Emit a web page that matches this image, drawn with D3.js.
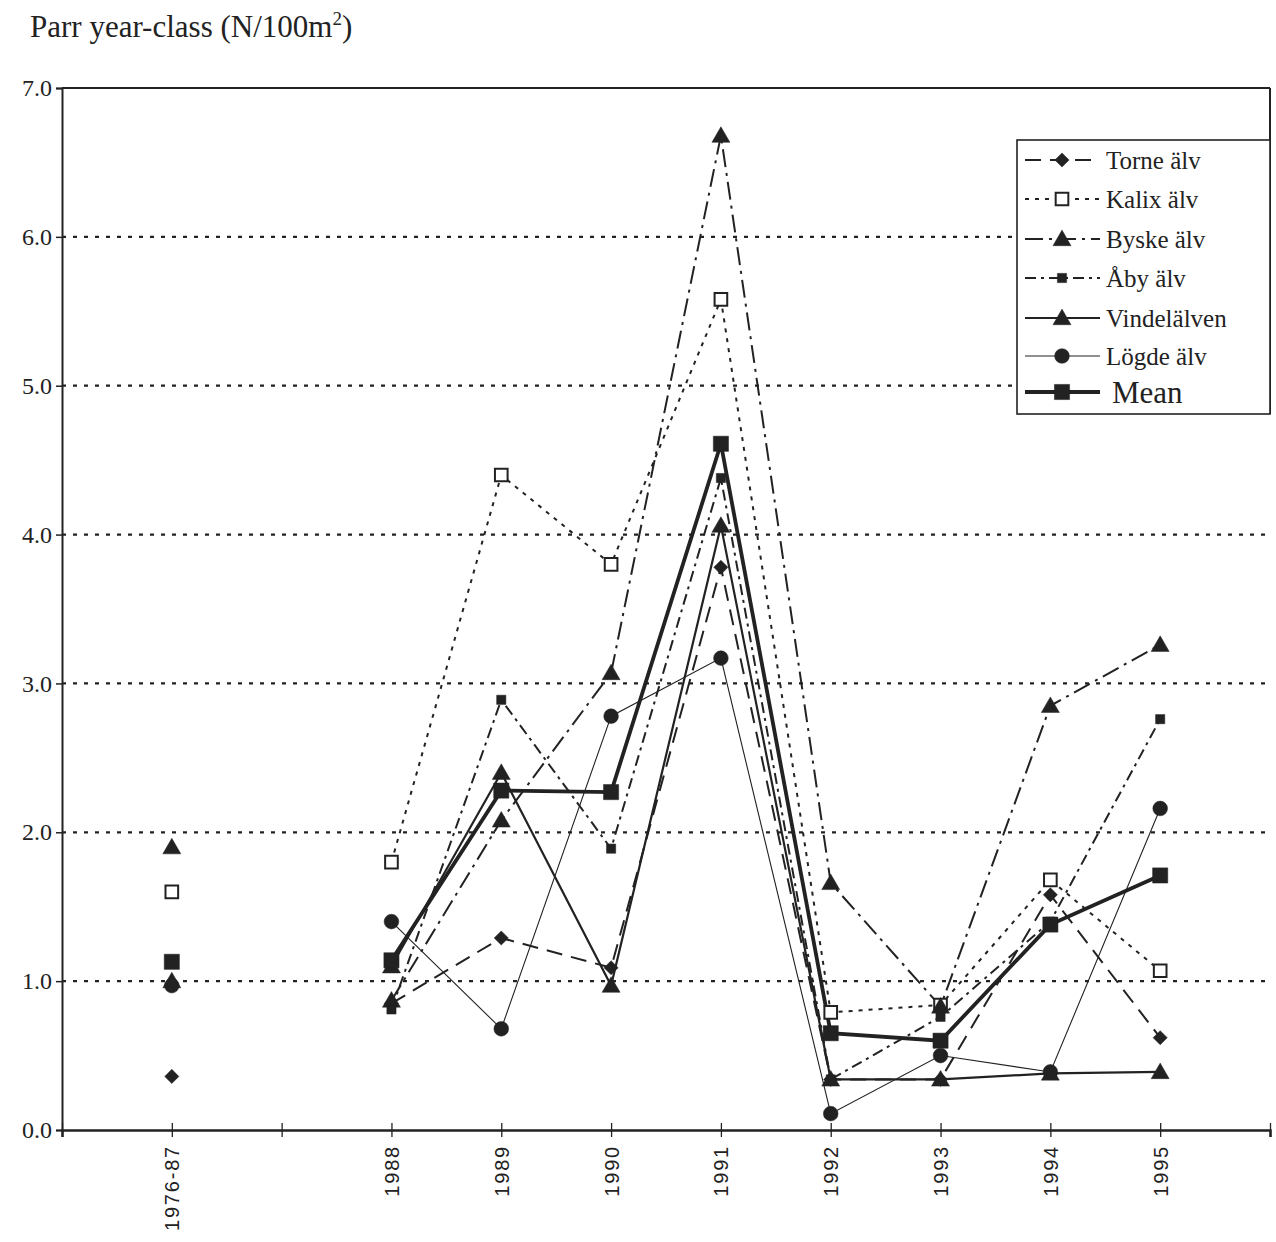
<!DOCTYPE html>
<html>
<head>
<meta charset="utf-8">
<script src="https://cdn.jsdelivr.net/npm/d3@7"></script>
<style>
  body { margin: 0; background: #fff; }
  svg { display: block; }
  .serif { font-family: "Liberation Serif", "DejaVu Serif", serif; fill: #222; }
  .sans { font-family: "Liberation Sans", Arial, sans-serif; fill: #222; }
</style>
</head>
<body>
<div id="canvas"></div>
<script>
// categories on the x axis ('' = empty slot between the long-term mean and 1988)
var categories = ['1976-87', '', '1988', '1989', '1990', '1991', '1992', '1993', '1994', '1995'];

// parr year-class densities, N/100m2
var torne  = [0.36, null, 0.85, 1.29, 1.09, 3.78, 0.34, 0.34, 1.58, 0.62];
var kalix  = [1.60, null, 1.80, 4.40, 3.80, 5.58, 0.79, 0.84, 1.68, 1.07];
var byske  = [1.90, null, 0.87, 2.08, 3.07, 6.68, 1.66, 0.83, 2.85, 3.26];
var aby    = [null, null, 0.81, 2.89, 1.89, 4.38, 0.34, 0.76, 1.40, 2.76];
var vindel = [1.00, null, 1.10, 2.40, 0.97, 4.06, 0.34, 0.34, 0.38, 0.39];
var logde  = [0.97, null, 1.40, 0.68, 2.78, 3.17, 0.11, 0.50, 0.39, 2.16];
var mean   = [1.13, null, 1.14, 2.28, 2.27, 4.61, 0.65, 0.60, 1.38, 1.71];

var yTicks = [0, 1, 2, 3, 4, 5, 6, 7];

var W = 1276, H = 1242;
var m = {t: 88, r: 6, b: 112, l: 62};

var svg = d3.select('#canvas').append('svg')
    .attr('width', W).attr('height', H);

var x = d3.scaleLinear().domain([0, categories.length + 1]).range([m.l, W - m.r]);
var y = d3.scaleLinear().domain([0, 7]).range([H - m.b, m.t]);

var ink = '#222';

// series styles (diamond = square turned 45deg)
var series = [
    {name: 'Torne älv',   values: torne,  dash: '16,9',       width: 2,   symbol: d3.symbolSquare,   size: 100, fill: ink, rot: 45},
    {name: 'Kalix älv',   values: kalix,  dash: '4,6',        width: 2,   symbol: d3.symbolSquare,   size: 160, fill: '#fff'},
    {name: 'Byske älv',   values: byske,  dash: '18,6,3,6',   width: 2,   symbol: d3.symbolTriangle, size: 140, fill: ink},
    {name: 'Åby älv',     values: aby,    dash: '11,5,3,5',   width: 2,   symbol: d3.symbolSquare,   size: 85,  fill: ink},
    {name: 'Vindelälven', values: vindel, dash: null,         width: 2.2, symbol: d3.symbolTriangle, size: 140, fill: ink},
    {name: 'Lögde älv',   values: logde,  dash: null,         width: 1.1, symbol: d3.symbolCircle,   size: 170, fill: ink},
    {name: 'Mean',        values: mean,   dash: null,         width: 3.8, symbol: d3.symbolSquare,   size: 230, fill: ink}
];

function markerTransform(s, px, py){
    var dy = s.symbol === d3.symbolTriangle ? 1.5 : 0;
    return 'translate(' + px + ',' + (py + dy) + ')' + (s.rot ? ' rotate(' + s.rot + ')' : '');
}

// title
var title = svg.append('text').attr('class', 'serif')
    .attr('x', 30).attr('y', 37).style('font-size', '31px')
    .text('Parr year-class (N/100m');
title.append('tspan').attr('dy', -12).style('font-size', '19px').text('2');
title.append('tspan').attr('dy', 12).text(')');

// dotted gridlines
svg.append('g').selectAll('line')
    .data(yTicks.filter(function(d){ return d > 0 && d < 7; }))
    .enter().append('line')
    .attr('x1', m.l).attr('x2', W - m.r)
    .attr('y1', function(d){ return y(d); })
    .attr('y2', function(d){ return y(d); })
    .attr('stroke', ink).attr('stroke-width', 2.2)
    .attr('stroke-dasharray', '4,7');

// frame: top line and right edge
svg.append('line').attr('x1', m.l).attr('x2', W - m.r)
    .attr('y1', y(7)).attr('y2', y(7))
    .attr('stroke', ink).attr('stroke-width', 2);
svg.append('line').attr('x1', W - m.r).attr('x2', W - m.r)
    .attr('y1', y(7)).attr('y2', 414)
    .attr('stroke', ink).attr('stroke-width', 2);

// y axis
var yAxis = svg.append('g')
    .attr('transform', 'translate(' + m.l + ',0)')
    .call(d3.axisLeft(y).tickValues(yTicks).tickFormat(d3.format('.1f')).tickSize(6).tickPadding(4));
yAxis.select('.domain').attr('stroke', ink).attr('stroke-width', 2);
yAxis.selectAll('.tick line').attr('stroke', ink).attr('stroke-width', 1.5);
yAxis.selectAll('.tick text').attr('class', 'serif')
    .style('font-size', '24px').attr('fill', ink);

// x axis, ticks cross the baseline
var xAxis = svg.append('g')
    .attr('transform', 'translate(0,' + y(0) + ')')
    .call(d3.axisBottom(x).tickValues(d3.range(0, categories.length + 2))
        .tickFormat(function(i){ return (i >= 1 && i <= categories.length) ? categories[i - 1] : ''; })
        .tickSizeOuter(0).tickSize(7));
xAxis.select('.domain').attr('stroke', ink).attr('stroke-width', 2.5);
xAxis.selectAll('.tick line').attr('stroke', ink).attr('stroke-width', 1.3).attr('y1', -7);
xAxis.selectAll('.tick text').attr('class', 'sans')
    .style('font-size', '20px').style('letter-spacing', '1.8px').attr('fill', ink)
    .attr('text-anchor', 'end')
    .attr('transform', 'rotate(-90)')
    .attr('x', -15).attr('y', 0).attr('dy', '0.35em');

// lines
var line = d3.line()
    .defined(function(d){ return d != null; })
    .x(function(d, i){ return x(i + 1); })
    .y(function(d){ return y(d); });

var plot = svg.append('g');
series.forEach(function(s){
    plot.append('path')
        .attr('d', line(s.values))
        .attr('fill', 'none')
        .attr('stroke', ink)
        .attr('stroke-width', s.width)
        .attr('stroke-dasharray', s.dash);
});

// markers
series.forEach(function(s){
    var pts = s.values.map(function(v, i){ return {v: v, i: i}; })
        .filter(function(d){ return d.v != null; });
    plot.append('g').selectAll('path')
        .data(pts).enter().append('path')
        .attr('d', d3.symbol().type(s.symbol).size(s.size))
        .attr('transform', function(d){ return markerTransform(s, x(d.i + 1), y(d.v)); })
        .attr('fill', s.fill)
        .attr('stroke', ink)
        .attr('stroke-width', s.fill === '#fff' ? 2 : 0.5);
});

// legend
var lg = svg.append('g');
lg.append('rect')
    .attr('x', 1017).attr('y', 140).attr('width', W - m.r - 1017).attr('height', 274)
    .attr('fill', '#fff').attr('stroke', ink).attr('stroke-width', 1.6);

var legendY = [160, 199, 239, 278, 318, 356, 392];
series.forEach(function(s, k){
    var ly = legendY[k];
    lg.append('line')
        .attr('x1', 1025).attr('x2', 1100)
        .attr('y1', ly).attr('y2', ly)
        .attr('stroke', ink).attr('stroke-width', s.width)
        .attr('stroke-dasharray', s.dash);
    lg.append('path')
        .attr('d', d3.symbol().type(s.symbol).size(s.size))
        .attr('transform', markerTransform(s, 1062, ly))
        .attr('fill', s.fill)
        .attr('stroke', ink)
        .attr('stroke-width', s.fill === '#fff' ? 2 : 0.5);
    lg.append('text').attr('class', 'serif')
        .attr('x', s.name === 'Mean' ? 1112 : 1106).attr('y', ly)
        .attr('dy', '0.35em')
        .style('font-size', s.name === 'Mean' ? '31px' : '25px')
        .text(s.name);
});
</script>
</body>
</html>
